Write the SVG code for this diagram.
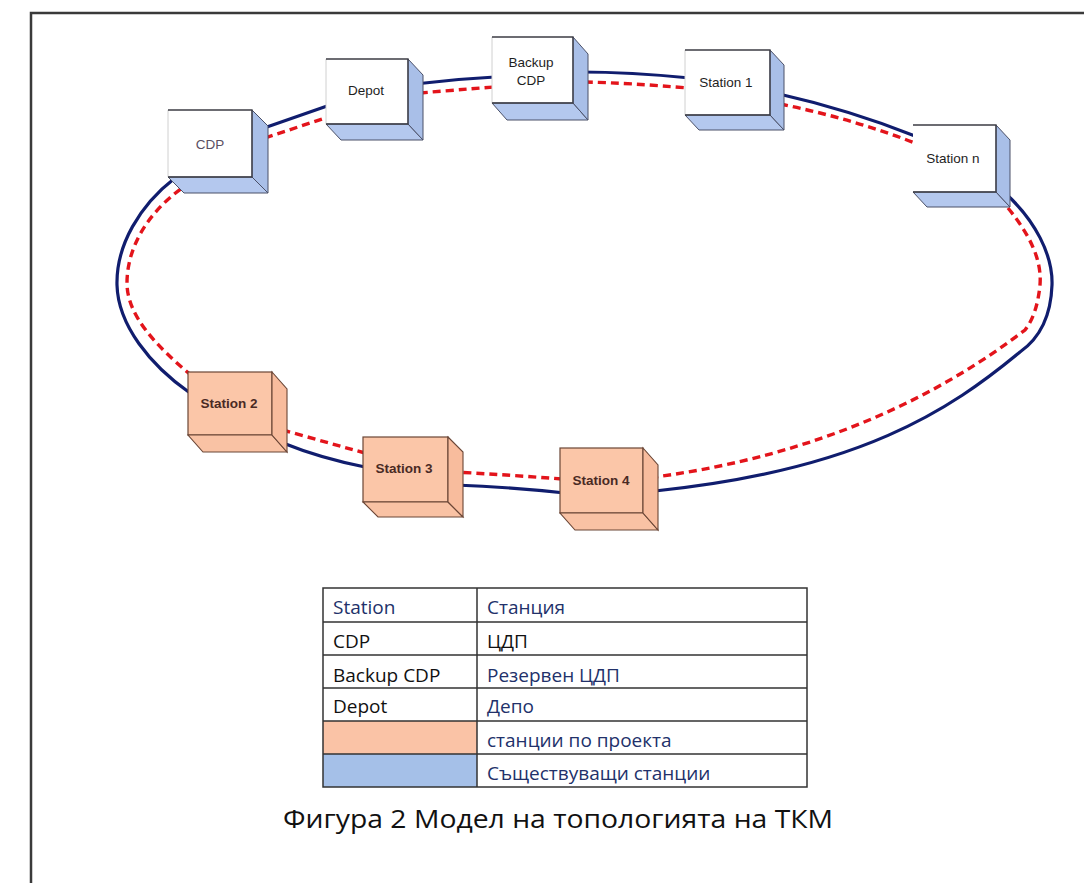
<svg xmlns="http://www.w3.org/2000/svg" width="1084" height="883" viewBox="0 0 1084 883">
<style>
.frame{fill:none;stroke:#3a3a3a;stroke-width:2.5}
.navy{fill:none;stroke:#101d6e;stroke-width:3.2;stroke-linecap:round}
.red{fill:none;stroke:#e3141b;stroke-width:3.4;stroke-dasharray:8 5}
.wf{fill:#ffffff;stroke:none}
.bs{fill:#a9bfe8;stroke:#4a5068;stroke-width:1}
.bb{fill:#b4c8ee;stroke:#4a5068;stroke-width:1}
.we{fill:none;stroke:#3c3c44;stroke-width:1.3}
.wl{fill:none;stroke:#d0d0d0;stroke-width:1}
.of{fill:#fbc6a8;stroke:#6b4636;stroke-width:1.2}
.os{fill:#f8bc9d;stroke:#6b4636;stroke-width:1.1}
.ob{fill:#f9c2a4;stroke:#6b4636;stroke-width:1.1}
.wt{font-family:"Liberation Sans",Arial,sans-serif;font-size:13.5px;fill:#1e1e1e;text-anchor:middle}
.ot{font-family:"Liberation Sans",Arial,sans-serif;font-size:13.5px;font-weight:bold;fill:#4a2a24;text-anchor:middle}
.tl{fill:none;stroke:#333;stroke-width:1.5}
.lt{font-family:"Open Sans","Noto Sans",sans-serif;font-size:19px;fill:#111}
.ln{font-family:"Open Sans","Noto Sans",sans-serif;font-size:19px;fill:#22316a}
.cap{font-family:"Open Sans","Noto Sans",sans-serif;font-size:26px;fill:#111}
</style>
<path class="frame" d="M31,883 L31,13 L1084,13"/>
<g id="connectors">
<path class="navy" d="M264,128 L330,105 M415,84 Q455,79 495,77 M580,72 Q630,72 690,78 M775,93 Q850,110 915,136 M1005,193 C1035,220 1053,255 1052,285 C1051,315 1040,338 1020,352 C950,410 860,470 655,491 M565,493 Q510,487 455,485 M365,467 Q320,458 283,443 M190,393 C150,365 118,325 117,285 C116,245 140,205 175,178"/>
<path class="red" d="M265,138 L328,117 M420,93 Q455,90 495,87 M585,82 Q630,83 688,88 M780,104 Q850,118 915,143 M1008,208 C1030,235 1042,260 1040,285 C1038,305 1033,320 1025,330 C940,395 820,455 655,477 M562,479 Q510,475 455,472 M365,453 Q325,442 283,430 M192,376 C155,345 127,315 127,283 C127,250 145,215 182,188"/>
</g>
<g id="node-cdp" transform="translate(168,110)">
<rect class="wf" width="84" height="67"/>
<polygon class="bb" points="0,67 84,67 100,83 16,83"/>
<polygon class="bs" points="84,0 100,16 100,83 84,67"/>
<path class="wl" d="M0,0 L0,67"/>
<path class="we" d="M0,0 L84,0 L84,67 L0,67"/>
<text class="wt" x="42" y="39" style="fill:#5a4f62">CDP</text>
</g>
<g id="node-depot" transform="translate(326,59)">
<rect class="wf" width="82" height="65"/>
<polygon class="bb" points="0,65 82,65 97,81 15,81"/>
<polygon class="bs" points="82,0 97,16 97,81 82,65"/>
<path class="wl" d="M0,0 L0,65"/>
<path class="we" d="M0,0 L82,0 L82,65 L0,65"/>
<text class="wt" x="40" y="36">Depot</text>
</g>
<g id="node-backup-cdp" transform="translate(492,37)">
<rect class="wf" width="81" height="66"/>
<polygon class="bb" points="0,66 81,66 96,83 15,83"/>
<polygon class="bs" points="81,0 96,17 96,83 81,66"/>
<path class="wl" d="M0,0 L0,66"/>
<path class="we" d="M0,0 L81,0 L81,66 L0,66"/>
<text class="wt" x="39" y="30">Backup</text>
<text class="wt" x="39" y="48">CDP</text>
</g>
<g id="node-station1" transform="translate(685,50)">
<rect class="wf" width="85" height="65"/>
<polygon class="bb" points="0,65 85,65 99,80 14,80"/>
<polygon class="bs" points="85,0 99,15 99,80 85,65"/>
<path class="wl" d="M0,0 L0,65"/>
<path class="we" d="M0,0 L85,0 L85,65 L0,65"/>
<text class="wt" x="41" y="37">Station 1</text>
</g>
<g id="node-station-n" transform="translate(913,125)">
<rect class="wf" width="83" height="67"/>
<polygon class="bb" points="0,67 83,67 97,82 14,82"/>
<polygon class="bs" points="83,0 97,15 97,82 83,67"/>
<path class="we" d="M0,0 L83,0 L83,67 L0,67"/>
<text class="wt" x="40" y="38">Station n</text>
</g>
<g id="node-station2" transform="translate(188,372)">
<rect class="of" width="84" height="63"/>
<polygon class="ob" points="0,63 84,63 99,80 15,80"/>
<polygon class="os" points="84,0 99,17 99,80 84,63"/>
<text class="ot" x="41" y="36">Station 2</text>
</g>
<g id="node-station3" transform="translate(363,437)">
<rect class="of" width="85" height="65"/>
<polygon class="ob" points="0,65 85,65 100,80 15,80"/>
<polygon class="os" points="85,0 100,15 100,80 85,65"/>
<text class="ot" x="41" y="36">Station 3</text>
</g>
<g id="node-station4" transform="translate(560,448)">
<rect class="of" width="83" height="65"/>
<polygon class="ob" points="0,65 83,65 98,82 15,82"/>
<polygon class="os" points="83,0 98,17 98,82 83,65"/>
<text class="ot" x="41" y="37">Station 4</text>
</g>
<g id="legend">
<rect x="323" y="721" width="154" height="33" fill="#fac3a6"/>
<rect x="323" y="754" width="154" height="33" fill="#a5c0e8"/>
<rect class="tl" x="323" y="588" width="484" height="199"/>
<path class="tl" d="M477,588 L477,787 M323,622 L807,622 M323,655 L807,655 M323,688 L807,688 M323,721 L807,721 M323,754 L807,754"/>
<text class="ln" x="333" y="614">Station</text>
<text class="lt" x="333" y="648">CDP</text>
<text class="lt" x="333" y="682">Backup CDP</text>
<text class="lt" x="333" y="713">Depot</text>
<text class="ln" x="487" y="614">Станция</text>
<text class="lt" x="487" y="648">ЦДП</text>
<text class="ln" x="487" y="682">Резервен ЦДП</text>
<text class="ln" x="487" y="713">Депо</text>
<text class="ln" x="487" y="747">станции по проекта</text>
<text class="ln" x="487" y="780">Съществуващи станции</text>
</g>
<text class="cap" x="283" y="828" textLength="550" lengthAdjust="spacingAndGlyphs">Фигура 2 Модел на топологията на ТКМ</text>
</svg>
